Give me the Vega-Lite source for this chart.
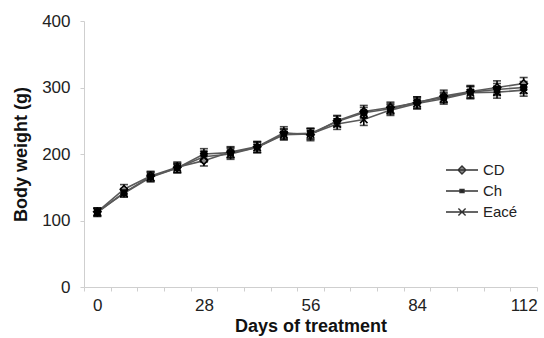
{
  "$schema": "https://vega.github.io/schema/vega-lite/v6.json",
  "width": 453,
  "height": 266,
  "autosize": "none",
  "padding": {"left": 84, "top": 21, "right": 7, "bottom": 51},
  "background": "white",
  "config": {
    "view": {"stroke": null},
    "font": "Liberation Sans",
    "axis": {
      "domainColor": "#cfcfcf",
      "tickColor": "#cfcfcf",
      "grid": false,
      "labelFont": "Liberation Sans",
      "labelColor": "#222",
      "labelFontSize": 17,
      "titleFont": "Liberation Sans",
      "titleFontSize": 18,
      "titleFontWeight": "bold",
      "titleColor": "#111"
    }
  },
  "data": {
    "values": [
      {"day": 0, "group": "CD", "w": 113, "e": 6}, {"day": 0, "group": "Ch", "w": 112, "e": 6}, {"day": 0, "group": "Eacé", "w": 113, "e": 6},
      {"day": 7, "group": "CD", "w": 147, "e": 7}, {"day": 7, "group": "Ch", "w": 142, "e": 6}, {"day": 7, "group": "Eacé", "w": 141, "e": 6},
      {"day": 14, "group": "CD", "w": 167, "e": 7}, {"day": 14, "group": "Ch", "w": 166, "e": 7}, {"day": 14, "group": "Eacé", "w": 165, "e": 7},
      {"day": 21, "group": "CD", "w": 180, "e": 8}, {"day": 21, "group": "Ch", "w": 179, "e": 7}, {"day": 21, "group": "Eacé", "w": 179, "e": 7},
      {"day": 28, "group": "CD", "w": 190, "e": 8}, {"day": 28, "group": "Ch", "w": 200, "e": 8}, {"day": 28, "group": "Eacé", "w": 196, "e": 8},
      {"day": 35, "group": "CD", "w": 203, "e": 8}, {"day": 35, "group": "Ch", "w": 202, "e": 8}, {"day": 35, "group": "Eacé", "w": 200, "e": 8},
      {"day": 42, "group": "CD", "w": 211, "e": 8}, {"day": 42, "group": "Ch", "w": 210, "e": 8}, {"day": 42, "group": "Eacé", "w": 210, "e": 8},
      {"day": 49, "group": "CD", "w": 232, "e": 9}, {"day": 49, "group": "Ch", "w": 230, "e": 8}, {"day": 49, "group": "Eacé", "w": 229, "e": 8},
      {"day": 56, "group": "CD", "w": 229, "e": 9}, {"day": 56, "group": "Ch", "w": 231, "e": 8}, {"day": 56, "group": "Eacé", "w": 230, "e": 8},
      {"day": 63, "group": "CD", "w": 250, "e": 8}, {"day": 63, "group": "Ch", "w": 249, "e": 8}, {"day": 63, "group": "Eacé", "w": 245, "e": 8},
      {"day": 70, "group": "CD", "w": 264, "e": 9}, {"day": 70, "group": "Ch", "w": 262, "e": 8}, {"day": 70, "group": "Eacé", "w": 252, "e": 9},
      {"day": 77, "group": "CD", "w": 270, "e": 8}, {"day": 77, "group": "Ch", "w": 268, "e": 8}, {"day": 77, "group": "Eacé", "w": 266, "e": 8},
      {"day": 84, "group": "CD", "w": 277, "e": 9}, {"day": 84, "group": "Ch", "w": 278, "e": 8}, {"day": 84, "group": "Eacé", "w": 276, "e": 8},
      {"day": 91, "group": "CD", "w": 287, "e": 9}, {"day": 91, "group": "Ch", "w": 285, "e": 8}, {"day": 91, "group": "Eacé", "w": 283, "e": 8},
      {"day": 98, "group": "CD", "w": 294, "e": 9}, {"day": 98, "group": "Ch", "w": 293, "e": 9}, {"day": 98, "group": "Eacé", "w": 292, "e": 9},
      {"day": 105, "group": "CD", "w": 300, "e": 10}, {"day": 105, "group": "Ch", "w": 297, "e": 9}, {"day": 105, "group": "Eacé", "w": 293, "e": 9},
      {"day": 112, "group": "CD", "w": 306, "e": 9}, {"day": 112, "group": "Ch", "w": 300, "e": 9}, {"day": 112, "group": "Eacé", "w": 296, "e": 9}
    ]
  },
  "encoding": {
    "x": {
      "field": "day",
      "type": "ordinal",
      "scale": {"paddingInner": 0, "paddingOuter": 0},
      "axis": {
        "title": "Days of treatment",
        "labelAngle": 0,
        "labelExpr": "datum.value % 28 === 0 ? datum.label : ''",
        "tickBand": "extent",
        "tickSize": 4,
        "labelPadding": 6,
        "titlePadding": 4
      }
    },
    "y": {
      "field": "w",
      "type": "quantitative",
      "scale": {"domain": [0, 400]},
      "axis": {
        "title": "Body weight (g)",
        "values": [0, 100, 200, 300, 400],
        "tickSize": 4,
        "labelPadding": 10,
        "titlePadding": 11
      }
    }
  },
  "layer": [
    {
      "mark": {"type": "line", "color": "#5a5a5a", "strokeWidth": 1.6},
      "encoding": {"detail": {"field": "group"}}
    },
    {
      "mark": {"type": "errorbar", "ticks": true, "size": 8, "color": "#000", "thickness": 1.6},
      "encoding": {
        "y": {"field": "w", "type": "quantitative", "title": "Body weight (g)"},
        "yError": {"field": "e"}
      }
    },
    {
      "mark": {"type": "point", "filled": true, "stroke": "#000", "strokeWidth": 1.6, "size": 55, "opacity": 1},
      "encoding": {
        "shape": {
          "field": "group",
          "type": "nominal",
          "scale": {
            "domain": ["Eacé", "CD", "Ch"],
            "range": ["M-1,-1L1,1M1,-1L-1,1", "M0,-1L1,0L0,1L-1,0Z", "M-0.7,-0.7L0.7,-0.7L0.7,0.7L-0.7,0.7Z"]
          },
          "legend": null
        },
        "fill": {
          "field": "group",
          "type": "nominal",
          "scale": {"domain": ["CD", "Ch", "Eacé"], "range": ["#8a8a8a", "#000", "#000"]},
          "legend": {
            "title": null,
            "orient": "none",
            "legendX": 369,
            "legendY": 140,
            "padding": 0,
            "rowPadding": 4,
            "symbolSize": 256,
            "symbolType": {"expr": "datum.value === 'CD' ? 'M-2,0L2,0M0,-0.5L0.5,0L0,0.5L-0.5,0Z' : datum.value === 'Ch' ? 'M-2,0L2,0M-0.25,-0.2L0.25,-0.2L0.25,0.2L-0.25,0.2Z' : 'M-2,0L2,0M-0.45,-0.45L0.45,0.45M0.45,-0.45L-0.45,0.45'"},
            "symbolStrokeColor": "#333",
            "symbolStrokeWidth": 1.4,
            "labelFontSize": 15,
            "labelColor": "#222",
            "labelFont": "Liberation Sans",
            "labelOffset": 12
          }
        }
      }
    }
  ]
}
